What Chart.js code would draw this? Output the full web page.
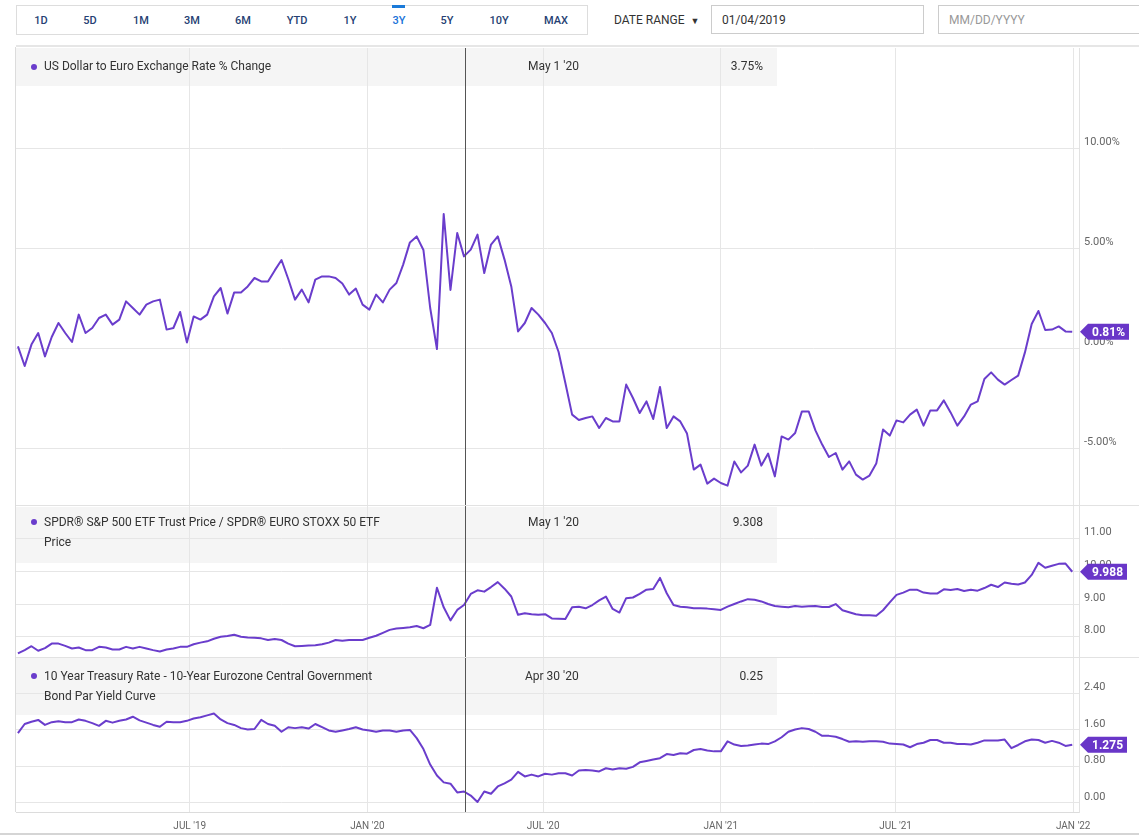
<!DOCTYPE html>
<html>
<head>
<meta charset="utf-8">
<script src="https://cdn.jsdelivr.net/npm/chart.js@4.4.1/dist/chart.umd.min.js"></script>
<style>
  body { margin:0; width:1139px; height:837px; background:#fff; position:relative; overflow:hidden;
         font-family: Roboto, Arial, sans-serif; color:#333; }
  .abs { position:absolute; }
  .toolbar { left:16px; top:5px; width:570px; height:28px; border:1px solid #ddd; }
  .btn { position:absolute; top:14px; font-size:11px; font-weight:500; color:#263f73; transform:translateX(-50%); }
  .btn.active { color:#1a73d9; }
  .input { top:5px; height:29px; border:1px solid #ccc; font-size:12px; line-height:29px; padding-left:10px; box-sizing:border-box; }
  .head { left:16px; width:761px; background:#f5f5f5; z-index:0; }
  .headtxt { left:16px; width:761px; z-index:3; }
  .headtxt .dot { position:absolute; left:15px; width:6px; height:6px; border-radius:3px; background:#6a3dcc; }
  .headtxt .t { position:absolute; left:28px; font-size:12px; line-height:20px; color:#333; }
  .headtxt .d { position:absolute; left:512px; font-size:12px; line-height:20px; }
  .headtxt .v { position:absolute; right:14px; font-size:12px; line-height:20px; }
  canvas { position:absolute; left:0; z-index:1; }
  .line { position:absolute; background:#e2e2e2; z-index:2; }
</style>
</head>
<body>
<div class="abs toolbar"></div>
<div class="btn" style="left:41px">1D</div>
<div class="btn" style="left:90px">5D</div>
<div class="btn" style="left:141px">1M</div>
<div class="btn" style="left:192px">3M</div>
<div class="btn" style="left:243px">6M</div>
<div class="btn" style="left:297px">YTD</div>
<div class="btn" style="left:350px">1Y</div>
<div class="btn active" style="left:399px">3Y</div>
<div class="abs" style="left:392px;top:5px;width:13px;height:3px;background:#1a7ad9"></div>
<div class="btn" style="left:447px">5Y</div>
<div class="btn" style="left:499px">10Y</div>
<div class="btn" style="left:556px">MAX</div>
<div class="abs" style="left:614px;top:13px;font-size:12px;color:#333">DATE RANGE &nbsp;<span style="font-size:9px">&#9660;</span></div>
<div class="abs input" style="left:711px;width:213px;color:#333">01/04/2019</div>
<div class="abs input" style="left:938px;width:210px;color:#999">MM/DD/YYYY</div>

<div class="line" style="left:16px;top:45px;width:1123px;height:2px;background:#e6e6e6"></div>

<!-- header backgrounds sit under the canvases, header texts above them -->
<div class="abs head" style="top:48px;height:38px"></div>
<div class="abs head" style="top:507px;height:56px"></div>
<div class="abs head" style="top:658px;height:57px"></div>

<div class="abs headtxt" style="top:48px;height:38px">
  <div class="dot" style="top:16px"></div>
  <div class="t" style="top:8px">US Dollar to Euro Exchange Rate % Change</div>
  <div class="d" style="top:8px">May 1 '20</div>
  <div class="v" style="top:8px">3.75%</div>
</div>
<div class="abs headtxt" style="top:507px;height:56px">
  <div class="dot" style="top:12px"></div>
  <div class="t" style="top:5px">SPDR® S&amp;P 500 ETF Trust Price / SPDR® EURO STOXX 50 ETF<br>Price</div>
  <div class="d" style="top:5px">May 1 '20</div>
  <div class="v" style="top:5px">9.308</div>
</div>
<div class="abs headtxt" style="top:658px;height:57px">
  <div class="dot" style="top:15px"></div>
  <div class="t" style="top:8px">10 Year Treasury Rate - 10-Year Eurozone Central Government<br>Bond Par Yield Curve</div>
  <div class="d" style="left:509px;top:8px">Apr 30 '20</div>
  <div class="v" style="top:8px">0.25</div>
</div>

<canvas id="c1" width="1139" height="457" style="top:48px;width:1139px;height:457px"></canvas>
<canvas id="c2" width="1139" height="152" style="top:505px;width:1139px;height:152px"></canvas>
<canvas id="c3" width="1139" height="180" style="top:657px;width:1139px;height:180px"></canvas>

<div class="line" style="left:15px;top:47px;width:1px;height:765px;background:#dcdcdc"></div>
<div class="line" style="left:16px;top:505px;width:1123px;height:1px"></div>
<div class="line" style="left:16px;top:657px;width:1123px;height:1px"></div>
<div class="line" style="left:0;top:833px;width:1139px;height:2px;background:#d5d5d5"></div>

<script>
// weekly closes (Fridays)
const weeks = [
  '2019-01-04','2019-01-11','2019-01-18','2019-01-25','2019-02-01','2019-02-08','2019-02-15','2019-02-22',
  '2019-03-01','2019-03-08','2019-03-15','2019-03-22','2019-03-29','2019-04-05','2019-04-12','2019-04-19',
  '2019-04-26','2019-05-03','2019-05-10','2019-05-17','2019-05-24','2019-05-31','2019-06-07','2019-06-14',
  '2019-06-21','2019-06-28','2019-07-05','2019-07-12','2019-07-19','2019-07-26','2019-08-02','2019-08-09',
  '2019-08-16','2019-08-23','2019-08-30','2019-09-06','2019-09-13','2019-09-20','2019-09-27','2019-10-04',
  '2019-10-11','2019-10-18','2019-10-25','2019-11-01','2019-11-08','2019-11-15','2019-11-22','2019-11-29',
  '2019-12-06','2019-12-13','2019-12-20','2019-12-27',
  '2020-01-03','2020-01-10','2020-01-17','2020-01-24','2020-01-31','2020-02-07','2020-02-14','2020-02-21',
  '2020-02-28','2020-03-06','2020-03-13','2020-03-20','2020-03-27','2020-04-03','2020-04-10','2020-04-17',
  '2020-04-24','2020-05-01','2020-05-08','2020-05-15','2020-05-22','2020-05-29','2020-06-05','2020-06-12',
  '2020-06-19','2020-06-26','2020-07-03','2020-07-10','2020-07-17','2020-07-24','2020-07-31','2020-08-07',
  '2020-08-14','2020-08-21','2020-08-28','2020-09-04','2020-09-11','2020-09-18','2020-09-25','2020-10-02',
  '2020-10-09','2020-10-16','2020-10-23','2020-10-30','2020-11-06','2020-11-13','2020-11-20','2020-11-27',
  '2020-12-04','2020-12-11','2020-12-18','2020-12-25',
  '2021-01-01','2021-01-08','2021-01-15','2021-01-22','2021-01-29','2021-02-05','2021-02-12','2021-02-19',
  '2021-02-26','2021-03-05','2021-03-12','2021-03-19','2021-03-26','2021-04-02','2021-04-09','2021-04-16',
  '2021-04-23','2021-04-30','2021-05-07','2021-05-14','2021-05-21','2021-05-28','2021-06-04','2021-06-11',
  '2021-06-18','2021-06-25','2021-07-02','2021-07-09','2021-07-16','2021-07-23','2021-07-30','2021-08-06',
  '2021-08-13','2021-08-20','2021-08-27','2021-09-03','2021-09-10','2021-09-17','2021-09-24','2021-10-01',
  '2021-10-08','2021-10-15','2021-10-22','2021-10-29','2021-11-05','2021-11-12','2021-11-19','2021-11-26',
  '2021-12-03','2021-12-10','2021-12-17','2021-12-24','2021-12-31'
];

const usdEurPct = [
  0.08,-0.9,0.17,0.75,-0.42,0.55,1.25,0.75,0.3,1.67,0.75,1.0,1.5,1.67,1.17,1.42,
  2.33,2.0,1.67,2.17,2.33,2.42,0.92,1.0,1.8,0.28,1.58,1.42,1.67,2.58,3.0,1.72,
  2.78,2.78,3.08,3.5,3.33,3.33,3.88,4.4,3.45,2.42,2.92,2.28,3.42,3.58,3.58,3.5,
  3.22,2.67,2.97,2.17,
  1.92,2.67,2.28,2.92,3.25,4.17,5.28,5.58,4.9,2.0,-0.05,6.7,2.9,5.75,4.58,4.92,
  5.67,3.75,5.17,5.58,4.42,3.08,0.83,1.25,2.0,1.67,1.25,0.75,-0.2,-1.75,-3.33,-3.6,
  -3.5,-3.42,-4.0,-3.5,-3.67,-3.67,-1.83,-2.5,-3.25,-2.67,-3.55,-1.95,-4.0,-3.42,-3.67,-4.28,
  -6.08,-5.83,-6.78,-6.53,
  -6.75,-6.88,-5.67,-6.22,-5.88,-4.83,-5.88,-5.28,-6.42,-4.42,-4.58,-4.25,-3.17,-3.17,-4.12,-4.83,
  -5.45,-5.25,-6.08,-5.67,-6.33,-6.58,-6.38,-5.78,-4.08,-4.38,-3.62,-3.72,-3.33,-3.08,-3.88,-3.12,
  -3.12,-2.62,-3.22,-3.88,-3.42,-2.83,-2.67,-1.55,-1.22,-1.58,-1.83,-1.6,-1.38,-0.22,1.2,1.85,
  0.9,0.92,1.08,0.83,0.81
];

const spyFezRatio = [
  7.49,7.59,7.71,7.57,7.65,7.79,7.79,7.72,7.64,7.67,7.59,7.59,7.69,7.67,7.61,7.61,
  7.69,7.64,7.69,7.64,7.59,7.55,7.61,7.64,7.69,7.69,7.77,7.82,7.86,7.94,8.0,8.02,
  8.06,8.0,7.98,7.97,7.95,7.9,7.93,7.9,7.79,7.71,7.72,7.73,7.74,7.77,7.82,7.9,
  7.88,7.9,7.9,7.9,
  7.97,8.03,8.12,8.21,8.25,8.27,8.29,8.33,8.26,8.36,9.5,8.9,8.5,8.82,8.97,9.31,
  9.42,9.38,9.52,9.67,9.47,9.23,8.67,8.72,8.69,8.67,8.69,8.56,8.55,8.54,8.9,8.92,
  8.87,8.97,9.11,9.23,8.85,8.74,9.18,9.2,9.31,9.44,9.46,9.8,9.33,8.97,8.92,8.9,
  8.87,8.87,8.86,8.84,
  8.82,8.92,9.0,9.08,9.15,9.13,9.08,9.0,8.94,8.92,8.9,8.94,8.92,8.93,8.94,8.91,
  8.91,9.0,8.81,8.75,8.69,8.66,8.66,8.64,8.81,9.05,9.28,9.35,9.44,9.44,9.35,9.32,
  9.32,9.45,9.43,9.46,9.4,9.44,9.41,9.49,9.59,9.52,9.66,9.62,9.6,9.66,9.89,10.26,
  10.11,10.17,10.23,10.24,9.988
];

const yieldSpread = [
  1.53,1.73,1.78,1.82,1.71,1.77,1.79,1.77,1.77,1.83,1.8,1.75,1.69,1.8,1.76,1.8,
  1.83,1.89,1.81,1.76,1.71,1.67,1.78,1.77,1.77,1.8,1.85,1.88,1.92,1.96,1.83,1.75,
  1.71,1.64,1.61,1.62,1.82,1.73,1.69,1.56,1.66,1.64,1.66,1.63,1.73,1.66,1.59,1.56,
  1.59,1.62,1.66,1.61,
  1.59,1.56,1.59,1.59,1.56,1.59,1.6,1.42,1.18,0.84,0.6,0.45,0.42,0.23,0.25,0.16,
  0.02,0.25,0.2,0.36,0.43,0.51,0.68,0.58,0.62,0.58,0.64,0.62,0.65,0.65,0.6,0.71,
  0.72,0.71,0.69,0.76,0.73,0.76,0.75,0.79,0.89,0.92,0.95,0.98,1.07,1.05,1.09,1.08,
  1.16,1.18,1.15,1.13,
  1.13,1.35,1.28,1.25,1.26,1.28,1.3,1.29,1.35,1.44,1.56,1.61,1.64,1.62,1.56,1.47,
  1.47,1.45,1.4,1.34,1.35,1.34,1.35,1.35,1.34,1.3,1.29,1.28,1.22,1.29,1.32,1.38,
  1.38,1.32,1.32,1.29,1.29,1.28,1.32,1.37,1.37,1.37,1.39,1.2,1.27,1.35,1.39,1.38,
  1.32,1.36,1.32,1.25,1.275
];

// x axis ticks
const tickDates = ['2019-07-01','2020-01-01','2020-07-01','2021-01-01','2021-07-01','2022-01-01'];
const tickLabels = ["JUL '19","JAN '20","JUL '20","JAN '21","JUL '21","JAN '22"];
const crosshairDate = '2020-04-11';

// y axis ticks per panel
const usdTicks = [-5, 0, 5, 10];
const ratioTicks = [8, 9, 10, 11];
const spreadTicks = [0, 0.8, 1.6, 2.4];

const origin = Date.parse('2019-01-01');
const dayOf = s => (Date.parse(s) - origin) / 864e5;
const X_MIN = 1, X_MAX = 1102;
const LINE = '#6a3dcc';
const GRID = '#e6e6e6';

const crosshair = {
  id: 'crosshair',
  afterDatasetsDraw(chart) {
    const x = chart.scales.x.getPixelForValue(dayOf(crosshairDate));
    const ctx = chart.ctx;
    ctx.save();
    ctx.strokeStyle = '#555';
    ctx.lineWidth = 1;
    ctx.beginPath();
    ctx.moveTo(Math.round(x) + 0.5, chart.chartArea.top);
    ctx.lineTo(Math.round(x) + 0.5, chart.chartArea.bottom);
    ctx.stroke();
    ctx.restore();
  }
};

const lastBadge = {
  id: 'lastBadge',
  afterDraw(chart, args, opts) {
    const data = chart.data.datasets[0].data;
    const last = data[data.length - 1];
    const y = chart.scales.y.getPixelForValue(last.y);
    const x = chart.chartArea.right;
    const ctx = chart.ctx;
    const text = last.y.toFixed(opts.digits) + (opts.suffix || '');
    ctx.save();
    ctx.font = 'bold 12px Roboto, Arial, sans-serif';
    const w = ctx.measureText(text).width + 8;
    ctx.fillStyle = '#6936c8';
    ctx.beginPath();
    ctx.moveTo(x + 1, y);
    ctx.lineTo(x + 9, y - 8);
    ctx.lineTo(x + 9 + w, y - 8);
    ctx.lineTo(x + 9 + w, y + 8);
    ctx.lineTo(x + 9, y + 8);
    ctx.closePath();
    ctx.fill();
    ctx.fillStyle = '#fff';
    ctx.textBaseline = 'middle';
    ctx.fillText(text, x + 13, y + 1);
    ctx.restore();
  }
};

function makePanel(id, values, yMin, yMax, yTicks, digits, suffix, showX) {
  const pts = values.map((v, i) => ({ x: dayOf(weeks[i]), y: v }));
  return new Chart(document.getElementById(id), {
    type: 'line',
    data: { datasets: [{ data: pts, borderColor: LINE, borderWidth: 2, pointRadius: 0, tension: 0, borderJoinStyle: 'round' }] },
    plugins: [crosshair, lastBadge],
    options: {
      responsive: false,
      animation: false,
      layout: { padding: { left: 16, right: 0, top: 0, bottom: 0 } },
      plugins: { legend: { display: false }, tooltip: { enabled: false }, lastBadge: { digits: digits, suffix: suffix } },
      scales: {
        x: {
          type: 'linear', min: X_MIN, max: X_MAX,
          afterBuildTicks: s => { s.ticks = tickDates.map(d => ({ value: dayOf(d) })); },
          afterFit: s => { s.height = showX ? 25 : 0; s.paddingLeft = 0; s.paddingRight = 0; },
          grid: { color: GRID, drawTicks: false },
          border: { display: showX, color: '#dcdcdc' },
          ticks: {
            display: showX, autoSkip: false, maxRotation: 0, padding: 8,
            color: '#666', font: { family: 'Roboto', size: 10 },
            callback: (v, i) => tickLabels[i]
          }
        },
        y: {
          position: 'right', min: yMin, max: yMax,
          afterBuildTicks: s => { s.ticks = yTicks.map(v => ({ value: v })); },
          afterFit: s => { s.width = 60; s.paddingTop = 0; s.paddingBottom = 0; },
          grid: { color: GRID, drawTicks: false },
          border: { display: true, color: '#e2e2e2' },
          ticks: {
            padding: 5, labelOffset: -6, autoSkip: false,
            color: '#666', font: { family: 'Roboto', size: 11 },
            callback: v => v.toFixed(2) + suffix
          }
        }
      }
    }
  });
}

makePanel('c1', usdEurPct, -7.85, 15, usdTicks, 2, '%', false);
makePanel('c2', spyFezRatio, 7.38, 12.03, ratioTicks, 3, '', false);
makePanel('c3', yieldSpread, -0.2, 3.2, spreadTicks, 3, '', true);
</script>
</body>
</html>
